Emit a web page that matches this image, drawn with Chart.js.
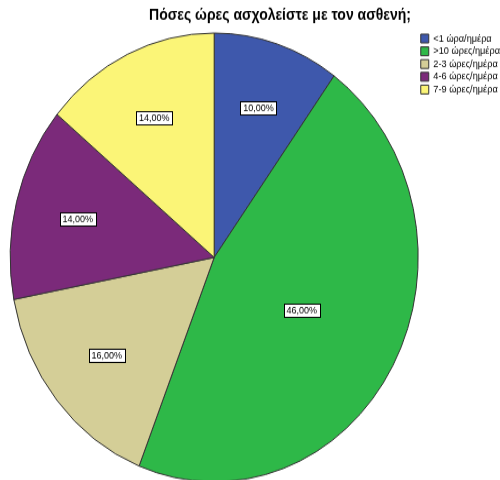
<!DOCTYPE html>
<html>
<head>
<meta charset="utf-8">
<script src="https://cdn.jsdelivr.net/npm/chart.js@4"></script>
<style>
  html { overflow: hidden; }
  body { margin: 0; padding: 0; background: #fff; width: 500px; height: 480px; }
  #wrap { position: relative; width: 500px; height: 440px; transform: scaleY(1.1); transform-origin: 0 0; }
</style>
</head>
<body>
<div id="wrap"><canvas id="pie"></canvas></div>
<script>
// data
const titleText = "Πόσες ώρες ασχολείστε με τον ασθενή;";
const categories = ["<1 ώρα/ημέρα", ">10 ώρες/ημέρα", "2-3 ώρες/ημέρα", "4-6 ώρες/ημέρα", "7-9 ώρες/ημέρα"];
const percents = [10, 46, 16, 14, 14];
const sliceColors = ["#3E58AC", "#2EB848", "#D4CE97", "#7B2A7A", "#FBF577"];

function formatPct(v) {
  return v.toFixed(2).replace(".", ",") + "%";
}

// title drawn a bit right of the pie, like the SPSS output
const titlePlugin = {
  id: "spssTitle",
  afterDraw(chart) {
    const ctx = chart.ctx;
    ctx.save();
    ctx.font = "bold 14px 'Liberation Sans', Arial, sans-serif";
    ctx.fillStyle = "#000";
    ctx.textAlign = "center";
    ctx.textBaseline = "middle";
    ctx.fillText(titleText, 280, 14);
    ctx.restore();
  }
};

// boxed percent labels near each slice centroid
const boxLabels = {
  id: "boxLabels",
  afterDatasetsDraw(chart) {
    const ctx = chart.ctx;
    const meta = chart.getDatasetMeta(0);
    ctx.save();
    ctx.font = "9px 'Liberation Sans', Arial, sans-serif";
    ctx.textAlign = "center";
    ctx.textBaseline = "middle";
    meta.data.forEach((arc, i) => {
      const half = (arc.endAngle - arc.startAngle) / 2;
      const mid = arc.startAngle + half;
      const d = 1.07 * (2 * arc.outerRadius * Math.sin(half)) / (3 * half);
      const x = arc.x + Math.cos(mid) * d;
      const y = arc.y + Math.sin(mid) * d;
      const txt = formatPct(percents[i]);
      const w = Math.round(ctx.measureText(txt).width + 5);
      const h = 12;
      const bx = Math.round(x - w / 2) + 0.5;
      const by = Math.round(y - h / 2) + 0.5;
      ctx.fillStyle = "#fff";
      ctx.fillRect(bx, by, w, h);
      ctx.strokeStyle = "#000";
      ctx.lineWidth = 1;
      ctx.strokeRect(bx, by, w, h);
      ctx.fillStyle = "#000";
      ctx.fillText(txt, x, y + 0.5);
    });
    ctx.restore();
  }
};

new Chart(document.getElementById("pie"), {
  type: "pie",
  data: {
    labels: categories,
    datasets: [{
      data: percents,
      backgroundColor: sliceColors,
      borderColor: "#333",
      borderWidth: 1,
      radius: 204,
      clip: false
    }]
  },
  options: {
    responsive: true,
    maintainAspectRatio: false,
    animation: false,
    layout: { padding: { left: 10, top: 28, right: -10, bottom: 0 } },
    plugins: {
      title: { display: false },
      tooltip: { enabled: false },
      legend: {
        position: "right",
        align: "start",
        labels: {
          boxWidth: 8,
          boxHeight: 8,
          padding: 2.4,
          color: "#000",
          font: { size: 9.2, family: "'Liberation Sans', Arial, sans-serif" }
        }
      }
    }
  },
  plugins: [titlePlugin, boxLabels]
});
</script>
</body>
</html>
